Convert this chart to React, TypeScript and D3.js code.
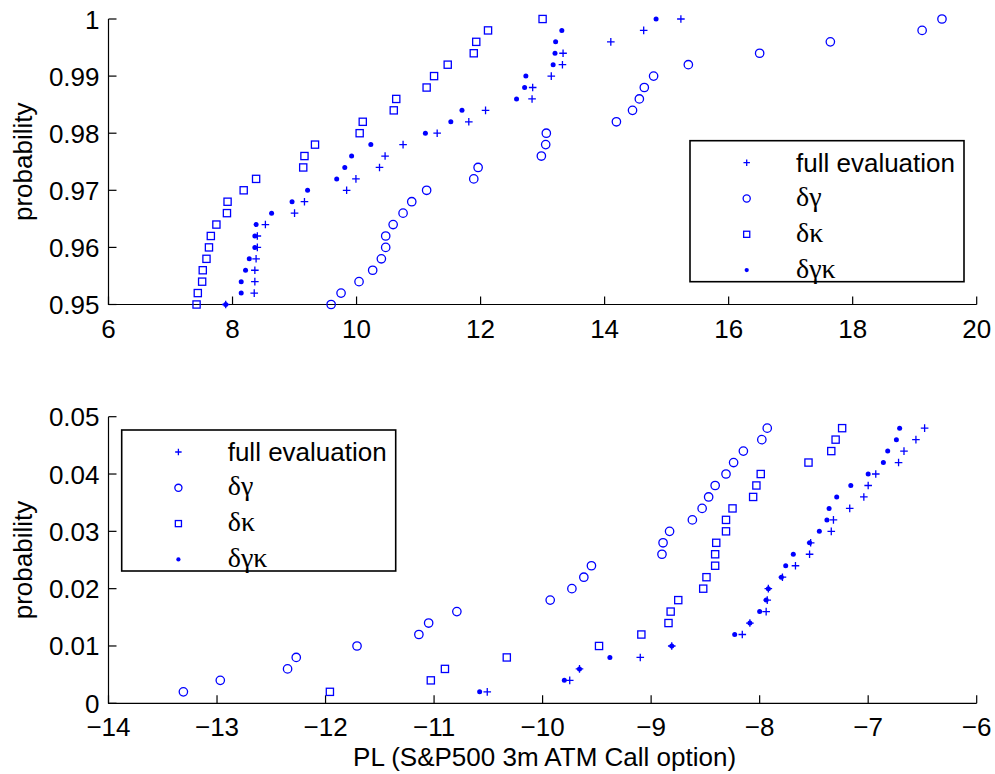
import React from "react";
import * as d3 from "d3";

// ---------- data ----------
const topProb = [0.95, 0.952, 0.954, 0.956, 0.958, 0.96, 0.962, 0.964, 0.966, 0.968, 0.97, 0.972, 0.974, 0.976, 0.978, 0.98, 0.982, 0.984, 0.986, 0.988, 0.99, 0.992, 0.994, 0.996, 0.998, 1.0];
const topFull = [7.89, 8.35, 8.36, 8.36, 8.38, 8.40, 8.40, 8.53, 9.00, 9.16, 9.84, 9.99, 10.37, 10.46, 10.75, 11.30, 11.81, 12.08, 12.83, 12.84, 13.14, 13.32, 13.33, 14.10, 14.63, 15.23];
const topGamma = [9.59, 9.75, 10.04, 10.26, 10.40, 10.47, 10.47, 10.59, 10.75, 10.89, 11.13, 11.89, 11.96, 12.98, 13.05, 13.06, 14.19, 14.45, 14.56, 14.64, 14.79, 15.35, 16.50, 17.64, 19.12, 19.44];
const topKappa = [7.42, 7.44, 7.51, 7.52, 7.58, 7.62, 7.65, 7.74, 7.91, 7.92, 8.18, 8.38, 9.14, 9.16, 9.33, 10.05, 10.10, 10.60, 10.64, 11.13, 11.25, 11.47, 11.89, 11.93, 12.12, 13.00];
const topGK = [7.89, 8.14, 8.14, 8.21, 8.27, 8.36, 8.36, 8.38, 8.63, 8.96, 9.21, 9.68, 9.81, 9.92, 10.23, 11.11, 11.52, 11.70, 12.58, 12.71, 12.73, 13.17, 13.20, 13.21, 13.31, 14.83];

const botProb = [0.002, 0.004, 0.006, 0.008, 0.01, 0.012, 0.014, 0.016, 0.018, 0.02, 0.022, 0.024, 0.026, 0.028, 0.03, 0.032, 0.034, 0.036, 0.038, 0.04, 0.042, 0.044, 0.046, 0.048];
const botFull = [-10.51, -9.75, -9.66, -9.10, -8.81, -8.16, -8.09, -7.94, -7.93, -7.92, -7.79, -7.67, -7.54, -7.53, -7.34, -7.32, -7.17, -7.04, -7.00, -6.93, -6.72, -6.67, -6.56, -6.48];
const botGamma = [-13.31, -12.97, -12.35, -12.27, -11.71, -11.14, -11.05, -10.79, -9.93, -9.73, -9.62, -9.55, -8.90, -8.89, -8.83, -8.62, -8.53, -8.47, -8.41, -8.31, -8.24, -8.15, -7.98, -7.93];
const botKappa = [-11.96, -11.03, -10.90, -10.33, -9.48, -9.09, -8.84, -8.82, -8.75, -8.52, -8.49, -8.41, -8.41, -8.40, -8.31, -8.31, -8.25, -8.06, -8.03, -7.99, -7.55, -7.34, -7.30, -7.24];
const botGK = [-10.58, -9.80, -9.66, -9.38, -8.81, -8.23, -8.09, -8.00, -7.94, -7.92, -7.80, -7.76, -7.69, -7.54, -7.45, -7.38, -7.36, -7.29, -7.16, -7.00, -6.86, -6.82, -6.74, -6.71];

const topXTicks = [6, 8, 10, 12, 14, 16, 18, 20];
const topYTicks = [0.95, 0.96, 0.97, 0.98, 0.99, 1];
const topYLabels = ["0.95", "0.96", "0.97", "0.98", "0.99", "1"];
const botXTicks = [-14, -13, -12, -11, -10, -9, -8, -7, -6];
const botYTicks = [0, 0.01, 0.02, 0.03, 0.04, 0.05];
const botYLabels = ["0", "0.01", "0.02", "0.03", "0.04", "0.05"];

const legendNames = ["full evaluation", "\u03b4\u03b3", "\u03b4\u03ba", "\u03b4\u03b3\u03ba"];
const markerKinds = ["plus", "circle", "square", "dot"];

const BLUE = "#0000ff";
const SANS = "'Liberation Sans', Arial, Helvetica, sans-serif";
const SERIF = "'Liberation Serif', 'Times New Roman', serif";
const FS = 26;

function Marker({ kind, x, y, s = 1 }: { kind: string; x: number; y: number; s?: number }) {
  if (kind === "plus") {
    const h = 3.8 * s;
    return (
      <path d={`M${x - h},${y}H${x + h}M${x},${y - h}V${y + h}`} stroke={BLUE} strokeWidth={1.3} fill="none" />
    );
  }
  if (kind === "circle") {
    return <circle cx={x} cy={y} r={4.2 * s} stroke={BLUE} strokeWidth={1.3} fill="none" />;
  }
  if (kind === "square") {
    const h = 3.6 * s;
    return <rect x={x - h} y={y - h} width={2 * h} height={2 * h} stroke={BLUE} strokeWidth={1.3} fill="none" />;
  }
  return <circle cx={x} cy={y} r={2.5 * s} fill={BLUE} />;
}

type PanelProps = {
  xDomain: [number, number];
  yDomain: [number, number];
  top: number;
  bottom: number;
  xTicks: number[];
  yTicks: number[];
  yLabels: string[];
  prob: number[];
  series: number[][];
  legend: { x: number; y: number };
  xTitle?: string;
};

const LEFT = 108.5;
const RIGHT = 976.7;

function fmtX(v: number) {
  return v < 0 ? "\u2212" + Math.abs(v) : String(v);
}

function Panel(p: PanelProps) {
  const x = d3.scaleLinear().domain(p.xDomain).range([LEFT, RIGHT]);
  const y = d3.scaleLinear().domain(p.yDomain).range([p.bottom, p.top]);
  const tl = 8;
  const lw = 274;
  const lh = 141;
  return (
    <g>
      {/* axes */}
      <path d={`M${LEFT},${p.top}V${p.bottom}H${RIGHT}`} stroke="#000" strokeWidth={1.2} fill="none" />
      {p.xTicks.map((t) => (
        <g key={"x" + t}>
          <line x1={x(t)} x2={x(t)} y1={p.bottom} y2={p.bottom - tl} stroke="#000" strokeWidth={1.2} />
          <text x={x(t)} y={p.bottom + 33} textAnchor="middle" fontFamily={SANS} fontSize={FS} fill="#000">
            {fmtX(t)}
          </text>
        </g>
      ))}
      {p.yTicks.map((t, i) => (
        <g key={"y" + t}>
          <line x1={LEFT} x2={LEFT + tl} y1={y(t)} y2={y(t)} stroke="#000" strokeWidth={1.2} />
          <text x={LEFT - 9} y={y(t) + 9.5} textAnchor="end" fontFamily={SANS} fontSize={FS} fill="#000">
            {p.yLabels[i]}
          </text>
        </g>
      ))}
      <text
        transform={`translate(32,${(p.top + p.bottom) / 2}) rotate(-90)`}
        textAnchor="middle"
        fontFamily={SANS}
        fontSize={FS}
        fill="#000"
      >
        probability
      </text>
      {p.xTitle && (
        <text x={(LEFT + RIGHT) / 2 + 2} y={766} textAnchor="middle" fontFamily={SANS} fontSize={FS} fill="#000">
          {p.xTitle}
        </text>
      )}
      {/* data */}
      {p.series.map((vals, si) => (
        <g key={"s" + si}>
          {vals.map((v, i) => (
            <Marker key={i} kind={markerKinds[si]} x={x(v)} y={y(p.prob[i])} />
          ))}
        </g>
      ))}
      {/* legend */}
      <rect x={p.legend.x} y={p.legend.y} width={lw} height={lh} fill="#fff" stroke="#000" strokeWidth={1.6} />
      {legendNames.map((name, i) => {
        const cy = p.legend.y + 22 + i * 35.8;
        return (
          <g key={name}>
            <Marker kind={markerKinds[i]} x={p.legend.x + 56.7} y={cy} s={0.85} />
            <text
              x={p.legend.x + 106}
              y={cy + (i === 0 ? 9.4 : 7.5)}
              fontFamily={i === 0 ? SANS : SERIF}
              fontSize={i === 0 ? FS : 28}
              fill="#000"
            >
              {name}
            </text>
          </g>
        );
      })}
    </g>
  );
}

export default function App() {
  return (
    <div style={{ position: "absolute", left: 0, top: 0, width: 995, height: 774, background: "#fff" }}>
      <svg width={995} height={774} viewBox="0 0 995 774">
        <rect width={995} height={774} fill="#fff" />
        <Panel
          xDomain={[6, 20]}
          yDomain={[0.95, 1]}
          top={19}
          bottom={304.5}
          xTicks={topXTicks}
          yTicks={topYTicks}
          yLabels={topYLabels}
          prob={topProb}
          series={[topFull, topGamma, topKappa, topGK]}
          legend={{ x: 690, y: 140.7 }}
        />
        <Panel
          xDomain={[-14, -6]}
          yDomain={[0, 0.05]}
          top={416.7}
          bottom={703.3}
          xTicks={botXTicks}
          yTicks={botYTicks}
          yLabels={botYLabels}
          prob={botProb}
          series={[botFull, botGamma, botKappa, botGK]}
          legend={{ x: 121.7, y: 430 }}
          xTitle="PL (S&P500 3m ATM Call option)"
        />
      </svg>
    </div>
  );
}
